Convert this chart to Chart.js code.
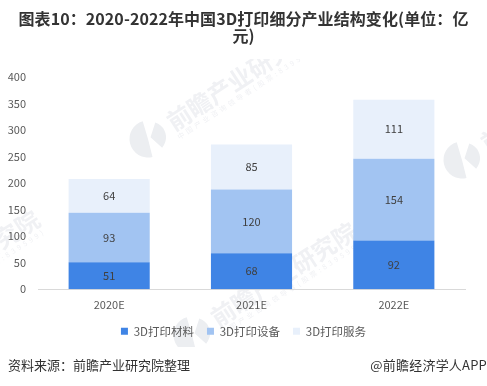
<!DOCTYPE html>
<html>
<head>
<meta charset="utf-8">
<script src="https://cdn.jsdelivr.net/npm/chart.js@4"></script>
<style>
  body { margin: 0; background: #fff; font-family: "Noto Sans CJK SC", sans-serif; }
  #wrap { position: relative; width: 487px; height: 386px; overflow: hidden; }
  #title { position: absolute; left: 14px; top: 10px; width: 459px; text-align: center; font-size: 16px; line-height: 17px; font-weight: bold; color: #333; letter-spacing: 0.08px; }
  #source, #credit { position: absolute; top: 356px; font-size: 13px; line-height: 18px; color: #333; }
  #source { left: 8px; }
  #credit { right: 0; letter-spacing: 0.2px; }
  canvas { position: absolute; left: 0; top: 0; }
</style>
</head>
<body>
<div id="wrap">
  <canvas id="chart" width="487" height="386"></canvas>
  <div id="title">图表10：2020-2022年中国3D打印细分产业结构变化(单位：亿元)</div>
  <div id="source">资料来源：前瞻产业研究院整理</div>
  <div id="credit">@前瞻经济学人APP</div>
</div>
<script>
const categories = ['2020E', '2021E', '2022E'];
const materials = [51, 68, 92];
const equipment = [93, 120, 154];
const services = [64, 85, 111];
const yTicks = [0, 50, 100, 150, 200, 250, 300, 350, 400];

const fontFamily = '"Noto Sans CJK SC", sans-serif';

// faint logo and name repeated behind everything, as in the reference
const watermark = {
  id: 'watermark',
  beforeDraw(chart) {
    const ctx = chart.ctx;
    const spots = [[148, 139], [192, 335], [462, 160], [-125, 323]];
    ctx.save();
    ctx.beginPath();
    ctx.rect(0, 59, chart.width, 288);
    ctx.clip();
    spots.forEach(([x, y]) => {
      ctx.save();
      ctx.translate(x, y);
      ctx.rotate(-33 * Math.PI / 180);
      ctx.fillStyle = '#eceef1';
      ctx.beginPath();
      ctx.moveTo(0, 0);
      ctx.arc(0, 0, 18.5, 1.9, 5.0);
      ctx.closePath();
      ctx.moveTo(3, 0);
      ctx.arc(3, 0, 15.5, 5.6, 1.3);
      ctx.closePath();
      ctx.fill();
      ctx.textBaseline = 'middle';
      ctx.fillStyle = '#f0f1f4';
      ctx.font = 'bold 24px ' + fontFamily;
      ctx.fillText('前瞻产业研究院', 26, -1);
      ctx.font = '7px ' + fontFamily;
      ctx.letterSpacing = '3px';
      ctx.fillText('中国产业咨询领导者(股票:839599)', 26, 15);
      ctx.restore();
    });
    ctx.restore();
  }
};

// Chart.js has no value labels of its own
const barLabels = {
  id: 'barLabels',
  afterDatasetsDraw(chart) {
    const ctx = chart.ctx;
    ctx.save();
    ctx.font = '11px ' + fontFamily;
    ctx.fillStyle = '#404040';
    ctx.textAlign = 'center';
    ctx.textBaseline = 'middle';
    chart.data.datasets.forEach((ds, i) => {
      chart.getDatasetMeta(i).data.forEach((bar, j) => {
        const p = bar.getProps(['x', 'y', 'base'], true);
        ctx.fillText(ds.data[j], p.x, (p.y + p.base) / 2);
      });
    });
    ctx.restore();
  }
};

// the legend is centred on the page, not on the padded chart area,
// and sits a little higher than the bottom padding would put it
const placeLegend = {
  id: 'placeLegend',
  afterLayout(chart) {
    chart.legend.left = 0;
    chart.legend.right = chart.width;
    chart.legend.top -= 2;
    chart.legend.bottom -= 2;
  }
};

new Chart(document.getElementById('chart'), {
  type: 'bar',
  data: {
    labels: categories,
    datasets: [
      { label: '3D打印材料', data: materials, backgroundColor: '#3f84e5' },
      { label: '3D打印设备', data: equipment, backgroundColor: '#a2c4f2' },
      { label: '3D打印服务', data: services, backgroundColor: '#e8f0fb' }
    ]
  },
  options: {
    responsive: false,
    animation: false,
    layout: { padding: { top: 77, left: 0, right: 22, bottom: 37 } },
    datasets: { bar: { categoryPercentage: 1, barPercentage: 0.57 } },
    scales: {
      x: {
        stacked: true,
        afterFit(scale) { scale.height -= 6; },
        grid: { display: false, drawTicks: false },
        border: { color: '#d9d9d9' },
        ticks: { color: '#595959', font: { family: fontFamily, size: 11 }, padding: 9, maxRotation: 0 }
      },
      y: {
        stacked: true,
        min: 0,
        max: 400,
        afterFit(scale) { scale.width = 38; },
        afterBuildTicks(scale) { scale.ticks = yTicks.map(value => ({ value })); },
        grid: { display: false },
        border: { display: false },
        ticks: { color: '#595959', font: { family: fontFamily, size: 11 }, padding: 4 }
      }
    },
    plugins: {
      title: { display: false },
      tooltip: { enabled: false },
      legend: {
        position: 'bottom',
        labels: {
          color: '#595959',
          font: { family: fontFamily, size: 11.5 },
          boxWidth: 7,
          boxHeight: 7,
          padding: 13
        }
      }
    }
  },
  plugins: [watermark, barLabels, placeLegend]
});
</script>
</body>
</html>
